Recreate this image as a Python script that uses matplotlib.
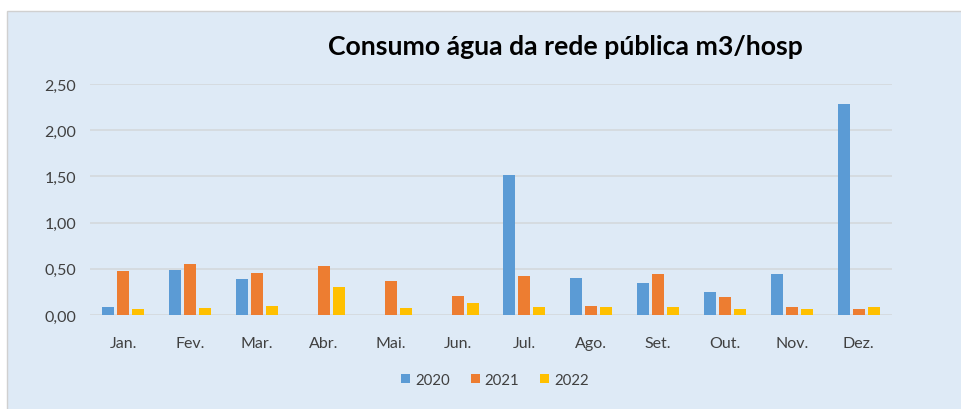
import numpy as np
import matplotlib
matplotlib.use("Agg")
import matplotlib.pyplot as plt
from matplotlib.patches import Rectangle

# --- Data
meses = ['Jan.', 'Fev.', 'Mar.', 'Abr.', 'Mai.', 'Jun.',
         'Jul.', 'Ago.', 'Set.', 'Out.', 'Nov.', 'Dez.']
anos = ['2020', '2021', '2022']
v2020 = [0.085, 0.49, 0.39, 0.0, 0.0, 0.0, 1.51, 0.40, 0.35, 0.25, 0.445, 2.28]
v2021 = [0.48, 0.555, 0.455, 0.535, 0.37, 0.205, 0.425, 0.095, 0.445, 0.195, 0.085, 0.065]
v2022 = [0.06, 0.077, 0.10, 0.30, 0.077, 0.13, 0.085, 0.085, 0.085, 0.065, 0.06, 0.085]
yticks = [0.0, 0.5, 1.0, 1.5, 2.0, 2.5]
# ---

CORES = ['#5B9BD5', '#ED7D31', '#FFC000']
FUNDO = '#DEEAF6'
TEXTO = '#404040'
plt.rcParams['font.family'] = ['Lato', 'DejaVu Sans']

fig = plt.figure(figsize=(9.62, 4.10), dpi=100)
fig.patch.set_facecolor('white')
# chart area background with thin border
fig.patches.append(Rectangle((7 / 962, -0.01), 1.0, 1 - 12 / 410 + 0.01,
                             transform=fig.transFigure, facecolor=FUNDO,
                             edgecolor='#D0D0D0', linewidth=1, zorder=-1))

ax = fig.add_axes([90 / 962, 1 - 316 / 410, 802 / 962, (316 - 85) / 410])
ax.set_facecolor('none')

x = np.arange(len(meses))
largura = 0.18
passo = 0.225
for i, (serie, cor) in enumerate(zip([v2020, v2021, v2022], CORES)):
    ax.bar(x + (i - 1) * passo, serie, width=largura, color=cor, label=anos[i], zorder=3)

ax.set_xlim(-0.5, len(meses) - 0.5)
ax.set_ylim(0, 2.5)
ax.set_yticks(yticks)
ax.set_yticklabels([('%.2f' % v).replace('.', ',') for v in yticks])
ax.set_xticks(x)
ax.set_xticklabels(meses)
ax.tick_params(axis='both', length=0, labelsize=11.5, colors=TEXTO)
ax.tick_params(axis='y', pad=10)
ax.tick_params(axis='x', pad=15)
ax.grid(axis='y', color='#D4D8DC', linewidth=1.2, zorder=0)
for s in ax.spines.values():
    s.set_visible(False)

fig.text(565 / 962, 1 - 47 / 410, 'Consumo água da rede pública m3/hosp',
         ha='center', va='center', fontsize=19.2, fontweight='bold', color='black')

leg = fig.legend(loc='center', bbox_to_anchor=(495 / 962, 1 - 381 / 410), ncol=3,
                 frameon=False, fontsize=10.8, handlelength=0.6, handleheight=0.6,
                 handletextpad=0.35, columnspacing=1.35)
for t in leg.get_texts():
    t.set_color(TEXTO)

fig.savefig('out.png', dpi=100, facecolor=fig.get_facecolor())
